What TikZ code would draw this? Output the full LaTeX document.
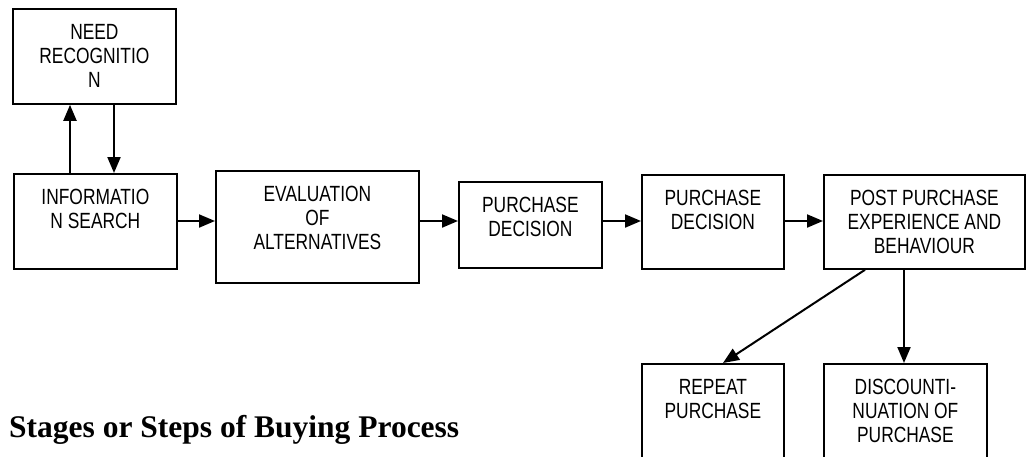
\documentclass[tikz,border=0pt]{standalone}
\usepackage{fontspec}
\setmainfont{Liberation Serif}
\newfontfamily\boxfont[FakeStretch=0.79]{Liberation Sans}
\usetikzlibrary{arrows.meta}

\tikzset{
  stage/.style={draw, line width=1.8pt, inner sep=0pt, anchor=north west,
    font=\boxfont\fontsize{22}{24}\selectfont},
  arr/.style={line width=2pt, -{Triangle[length=16pt,width=13pt]}},
}
% box of given width and height, text centred and hung from the top
\newcommand\stagetext[3]{\parbox[t][#2][t]{#1}{\centering\rule{0pt}{31pt}#3\par}}

\begin{document}
\begin{tikzpicture}[x=1pt,y=-1pt]
  \useasboundingbox (0,0) rectangle (1026,456);
  \clip (0,0) rectangle (1026,456);

  \node[stage] (need) at (12,8)   {\stagetext{163pt}{95pt}{NEED\\RECOGNITIO\\N}};
  \node[stage] (info) at (13,173) {\stagetext{163pt}{95pt}{INFORMATIO\\N SEARCH}};
  \node[stage] (eval) at (215,170) {\stagetext{203pt}{112pt}{EVALUATION\\OF\\ALTERNATIVES}};
  \node[stage] (pda)  at (458,181) {\stagetext{143pt}{86pt}{PURCHASE\\DECISION}};
  \node[stage] (pdb)  at (641,174) {\stagetext{142pt}{94pt}{PURCHASE\\DECISION}};
  \node[stage] (post) at (823,174) {\stagetext{201pt}{94pt}{POST PURCHASE\\EXPERIENCE AND\\BEHAVIOUR}};
  \node[stage] (rep)  at (641,363) {\stagetext{142pt}{100pt}{REPEAT\\PURCHASE}};
  \node[stage] (disc) at (823,363) {\stagetext{163pt}{100pt}{DISCOUNTI-\\NUATION OF\\PURCHASE}};

  \node[anchor=base west, inner sep=0pt, font=\bfseries\fontsize{31.5}{36}\selectfont]
    (title) at (9,437) {Stages or Steps of Buying Process};

  \coordinate (row) at (0,221);

  % loop between the first two stages
  \draw[arr] ([xshift=57pt]info.north west) -- ([xshift=58pt]need.south west);
  \draw[arr] ([xshift=102pt]need.south west) -- ([xshift=101pt]info.north west);

  % main sequence
  \draw[arr] (info.east |- row) -- (eval.west |- row);
  \draw[arr] (eval.east |- row) -- (pda.west |- row);
  \draw[arr] (pda.east |- row) -- (pdb.west |- row);
  \draw[arr] (pdb.east |- row) -- (post.west |- row);

  % outcomes
  \draw[arr] ([xshift=42pt]post.south west) -- ([xshift=82pt]rep.north west);
  \draw[arr] ([xshift=81pt]post.south west) -- ([xshift=81pt]disc.north west);
\end{tikzpicture}
\end{document}
